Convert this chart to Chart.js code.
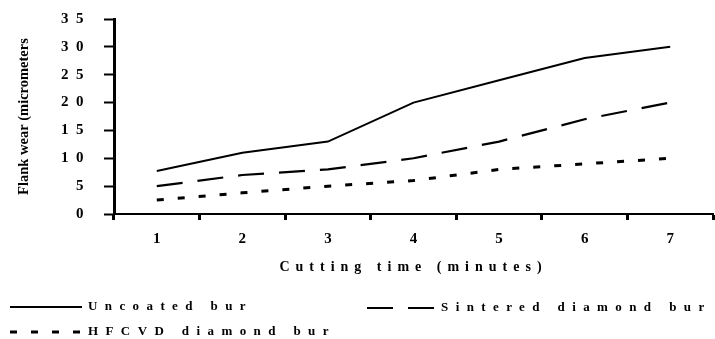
<!DOCTYPE html>
<html><head><meta charset="utf-8">
<script src="https://cdn.jsdelivr.net/npm/chart.js@4/dist/chart.umd.min.js"></script>
<style>html,body{margin:0;padding:0;background:#fff}canvas{display:block}</style>
</head><body>
<canvas id="c" width="715" height="339"></canvas>
<script>
const categories = ['1', '2', '3', '4', '5', '6', '7'];
const uncoatedBur = [7.7, 11, 13, 20, 24, 28, 30];
const sinteredDiamondBur = [5, 7, 8, 10, 13, 17, 20];
const hfcvdDiamondBur = [2.5, 3.8, 5, 6, 8, 9, 10];
const seriesNames = ['Uncoated bur', 'Sintered diamond bur', 'HFCVD diamond bur'];
const yTitle = 'Flank wear (micrometers';
const xTitle = 'Cutting time (minutes)';
const yMin = 0, yMax = 35, yStep = 5;

const FONT = "'Liberation Serif', 'Times New Roman', serif";
const canvas = document.getElementById('c');
const ctx = canvas.getContext('2d');

// letter spacing as in the reference (wide-tracked labels)
const spacingMap = {};
spacingMap[xTitle] = 6;
function spacingFor(c, t) {
  t = String(t);
  if (Object.prototype.hasOwnProperty.call(spacingMap, t)) return spacingMap[t];
  if (/^\d+$/.test(t) && c.textAlign === 'right') return 7.5;
  return 0;
}
const origFill = ctx.fillText;
ctx.fillText = function (t, x, y, m) {
  const s = spacingFor(this, t);
  const prev = this.letterSpacing;
  if (s) this.letterSpacing = s + 'px';
  if (m === undefined) origFill.call(this, t, x, y); else origFill.call(this, t, x, y, m);
  if (s) this.letterSpacing = prev;
};

const legendPlugin = {
  id: 'customLegend',
  afterDraw(chart) {
    const c = chart.ctx;
    const spots = [
      { ds: 0, x: 10, y: 307, len: 72 },
      { ds: 1, x: 367, y: 308, len: 68 },
      { ds: 2, x: 10, y: 332, len: 72 }
    ];
    c.save();
    spots.forEach(s => {
      const ds = chart.data.datasets[s.ds];
      c.beginPath();
      c.setLineDash(ds.borderDash || []);
      c.lineDashOffset = 0;
      c.lineWidth = ds.borderWidth;
      c.strokeStyle = ds.borderColor;
      c.lineCap = 'butt';
      c.moveTo(s.x, s.y);
      c.lineTo(s.x + s.len, s.y);
      c.stroke();
      c.setLineDash([]);
      c.font = 'bold 13px ' + FONT;
      c.fillStyle = '#000';
      c.textAlign = 'left';
      c.textBaseline = 'middle';
      c.letterSpacing = '7.4px';
      origFill.call(c, ds.label, s.x + s.len + 6, s.y);
      c.letterSpacing = '0px';
    });
    c.restore();
  }
};

new Chart(canvas, {
  type: 'line',
  data: {
    labels: categories,
    datasets: [
      { label: seriesNames[0], data: uncoatedBur, borderColor: '#000', backgroundColor: '#000', borderWidth: 2, borderDash: [], pointRadius: 0, tension: 0, fill: false },
      { label: seriesNames[1], data: sinteredDiamondBur, borderColor: '#000', backgroundColor: '#000', borderWidth: 2.2, borderDash: [26, 15], pointRadius: 0, tension: 0, fill: false },
      { label: seriesNames[2], data: hfcvdDiamondBur, borderColor: '#000', backgroundColor: '#000', borderWidth: 3, borderDash: [7, 14], pointRadius: 0, tension: 0, fill: false }
    ]
  },
  options: {
    responsive: false,
    devicePixelRatio: 1,
    animation: false,
    layout: { padding: { top: 12, right: 2, bottom: 63, left: 0 } },
    plugins: { legend: { display: false }, tooltip: { enabled: false } },
    scales: {
      x: {
        type: 'category',
        offset: true,
        grid: { display: true, offset: true, drawOnChartArea: false, drawTicks: true, tickLength: 6, tickWidth: 3, tickColor: '#000', color: '#000' },
        border: { display: true, color: '#000', width: 2 },
        ticks: { color: '#000', font: { family: FONT, size: 15, weight: 'bold' }, padding: 10, maxRotation: 0, autoSkip: false },
        title: { display: true, text: xTitle, color: '#000', font: { family: FONT, size: 14, weight: 'bold' }, padding: { top: 0, bottom: 0 } },
        afterFit(s) { s.height = 62; }
      },
      y: {
        min: yMin, max: yMax,
        grid: { display: true, drawOnChartArea: false, drawTicks: true, tickLength: 10, tickWidth: 2, tickColor: '#000', color: '#000' },
        border: { display: true, color: '#000', width: 3 },
        ticks: { stepSize: yStep, color: '#000', font: { family: FONT, size: 15, weight: 'bold', lineHeight: 0.8 }, padding: 13 },
        title: { display: true, text: yTitle, color: '#000', font: { family: FONT, size: 14.5, weight: 'bold' }, padding: { top: 16, bottom: 0 } },
        afterFit(s) { s.width = 114; }
      }
    }
  },
  plugins: [legendPlugin]
});
</script>
</body></html>
